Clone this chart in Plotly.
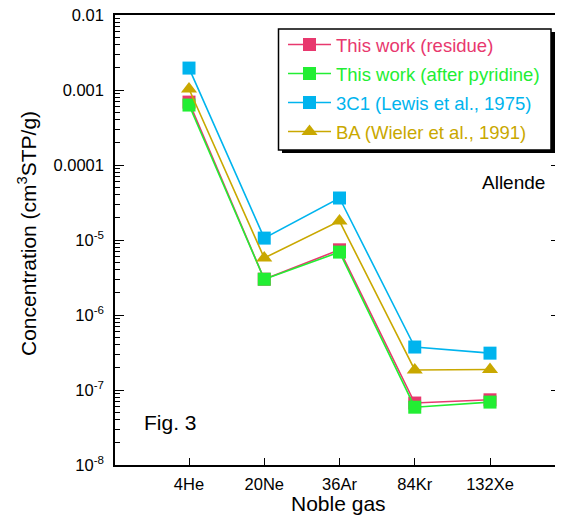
import plotly.graph_objects as go

gases = ["4He", "20Ne", "36Ar", "84Kr", "132Xe"]
residue = [6.9e-4, 3.0e-6, 7.4e-6, 6.7e-8, 7.4e-8]
after_pyridine = [6.3e-4, 3.0e-6, 6.9e-6, 5.9e-8, 6.9e-8]
lewis_3c1 = [1.96e-3, 1.06e-5, 3.63e-5, 3.74e-7, 3.1e-7]
wieler_ba = [1.03e-3, 5.75e-6, 1.79e-5, 1.85e-7, 1.88e-7]

names = ["This work (residue)", "This work (after pyridine)",
         "3C1 (Lewis et al., 1975)", "BA (Wieler et al., 1991)"]
colors = ["#E8386E", "#22EE33", "#00B4EE", "#C9A800"]
symbols = ["square", "square", "square", "triangle-up"]
series = [residue, after_pyridine, lewis_3c1, wieler_ba]

FONT = "Liberation Sans, Arial, Helvetica, sans-serif"

# page is offset by the browser's 8px body margin
OFF = 8
W, H = 563 - OFF, 523 - OFF
PL, PR, PT, PB = 115, 560, 15, 465  # plot area in page pixels
L, T = PL - OFF, PT - OFF
R, B = W - (PR - OFF), H - (PB - OFF)
PW, PH = PR - PL, PB - PT


def px(xp):
    return (xp - PL) / PW


def py(yp):
    return 1 - (yp - PT) / PH


legend_ids = ["legend", "legend2", "legend3", "legend4"]
legend_rows = [45, 74, 103, 132]

fig = go.Figure()
xs = list(range(len(gases)))
for i, (nm, col, sym, vals) in enumerate(zip(names, colors, symbols, series)):
    fig.add_trace(go.Scatter(
        x=xs, y=vals, mode="lines+markers", name=nm,
        legend=legend_ids[i],
        line=dict(color=col, width=1.6),
        marker=dict(symbol=sym, size=13 if sym == "square" else 14, color=col,
                    line=dict(width=0)),
    ))

major_vals = [1e-2, 1e-3, 1e-4, 1e-5, 1e-6, 1e-7, 1e-8]
major_text = ["0.01", "0.001", "0.0001", "10<sup>-5</sup>", "10<sup>-6</sup>",
              "10<sup>-7</sup>", "10<sup>-8</sup>"]
minor_vals = [m * d for d in [1e-8, 1e-7, 1e-6, 1e-5, 1e-4, 1e-3] for m in range(2, 10)]

legend_layout = {}
for i, (lid, col, row) in enumerate(zip(legend_ids, colors, legend_rows)):
    legend_layout[lid] = dict(
        x=px(283), y=py(row), xanchor="left", yanchor="middle",
        bgcolor="rgba(0,0,0,0)", borderwidth=0,
        font=dict(family=FONT, size=18.5, color=col),
        itemwidth=43,
    )

x0 = (PL - 189) / 75.25
x1 = 4 + (PR - 490) / 75.25

fig.update_layout(
    width=W, height=H,
    margin=dict(l=L, r=R, t=T, b=B, autoexpand=False),
    paper_bgcolor="white", plot_bgcolor="white",
    font=dict(family=FONT, color="black", size=16.5),
    showlegend=True,
    xaxis=dict(
        range=[x0, x1], tickmode="array", tickvals=xs, ticktext=gases,
        ticks="inside", ticklen=7, tickwidth=1, tickcolor="black",
        showline=True, linecolor="black", linewidth=1.5, mirror=True,
        showgrid=False, zeroline=False, tickfont=dict(size=16.5),
        ticklabelstandoff=3, ticklabeloverflow="allow",
    ),
    yaxis=dict(
        type="log", range=[-8, -2], tickmode="array",
        tickvals=major_vals, ticktext=major_text,
        ticks="inside", ticklen=9, tickwidth=1, tickcolor="black",
        minor=dict(tickmode="array", tickvals=minor_vals, ticks="inside",
                   ticklen=5, tickcolor="black", showgrid=False),
        showline=True, linecolor="black", linewidth=1.5, mirror="ticks",
        showgrid=False, zeroline=False, tickfont=dict(size=16.5),
        ticklabelstandoff=6, ticklabeloverflow="allow",
    ),
    **legend_layout,
)

fig.add_annotation(text="Concentration (cm<sup>3</sup>STP/g)", xref="paper", yref="paper",
                   x=px(27), y=py(234), textangle=-90, showarrow=False,
                   font=dict(size=21), xanchor="center", yanchor="middle")
fig.add_annotation(text="Noble gas", xref="paper", yref="paper",
                   x=px(338), y=py(503), showarrow=False,
                   font=dict(size=21), xanchor="center", yanchor="middle")
fig.add_annotation(text="Fig. 3", xref="paper", yref="paper",
                   x=px(142), y=py(422), showarrow=False,
                   font=dict(size=21), xanchor="left", yanchor="middle")
fig.add_annotation(text="Allende", xref="paper", yref="paper",
                   x=px(547), y=py(183), showarrow=False,
                   font=dict(size=19), xanchor="right", yanchor="middle")

# legend frame with drop shadow
fig.add_shape(type="rect", xref="paper", yref="paper",
              x0=px(282), x1=px(555), y0=py(153), y1=py(32),
              fillcolor="black", line=dict(width=0), layer="above")
fig.add_shape(type="rect", xref="paper", yref="paper",
              x0=px(278.5), x1=px(551), y0=py(150), y1=py(29),
              fillcolor="white", line=dict(color="black", width=1.5), layer="above")

fig.write_html("out.html")
